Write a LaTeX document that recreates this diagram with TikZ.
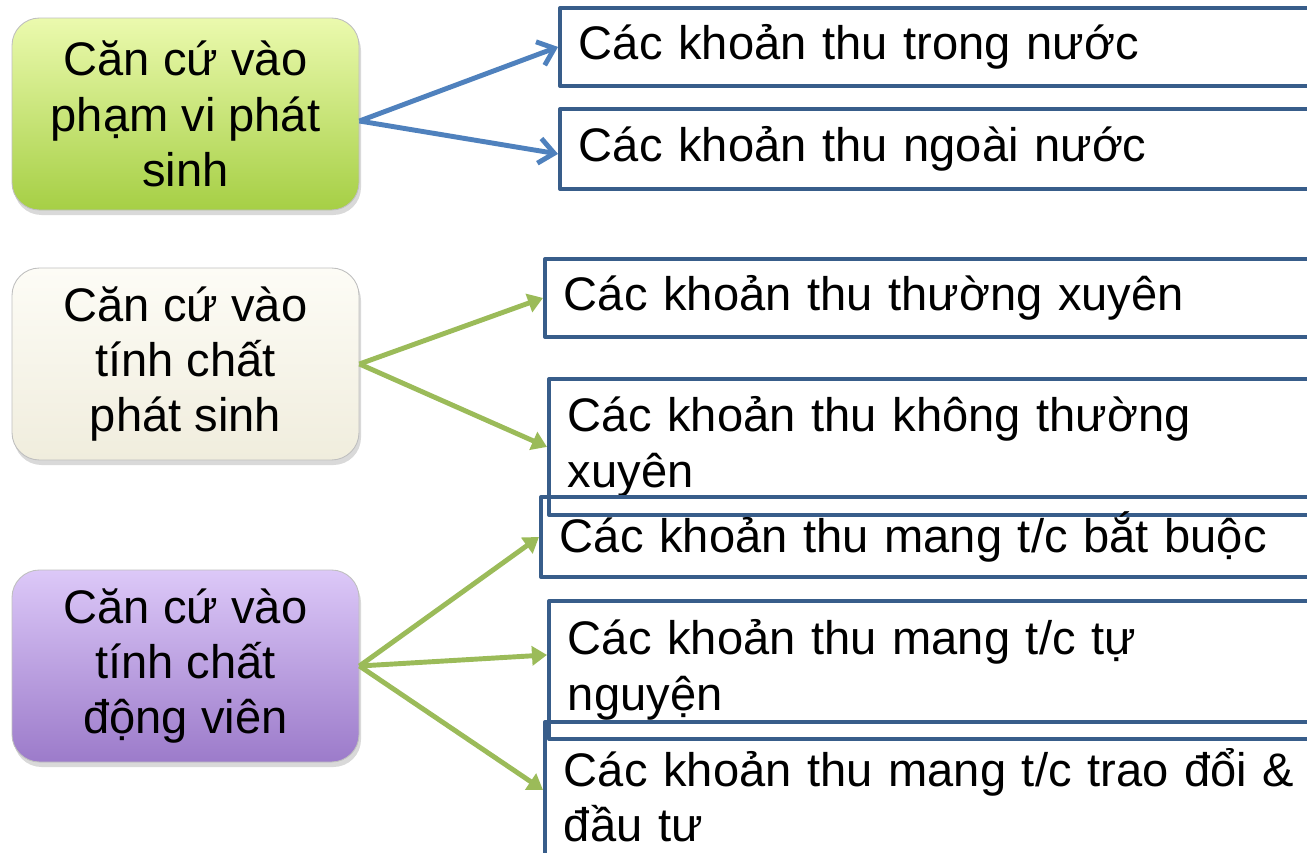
\documentclass[tikz,border=0pt]{standalone}
\usepackage{fontspec}
\setmainfont{Liberation Sans}
\usetikzlibrary{arrows.meta,shadows}
\definecolor{bluearrow}{HTML}{4F81BD}
\definecolor{greenarrow}{HTML}{9BBB59}
\definecolor{boxblue}{HTML}{385D8A}
\definecolor{greentop}{HTML}{EBFAAE}
\definecolor{greenbot}{HTML}{A6CF45}
\definecolor{creamtop}{HTML}{FDFCF6}
\definecolor{creambot}{HTML}{F0EDDD}
\definecolor{purpletop}{HTML}{DCC8F8}
\definecolor{purplebot}{HTML}{9C7BCA}

\begin{document}
\begin{tikzpicture}[>={Triangle[length=0.3cm,width=0.38cm]}, line join=round]
    \useasboundingbox (0,0) rectangle (26.14,-17.06);
    \clip (0,0) rectangle (26.14,-17.06);
    % left: criteria
    \begin{scope}[every node/.style={rectangle, rounded corners=0.55cm, draw=black!25, line width=0.5pt,
        minimum width=6.94cm, minimum height=3.84cm, align=center, font=\fontsize{26.8}{31.5}\selectfont,
        drop shadow={opacity=0.3, shadow xshift=0.04cm, shadow yshift=-0.1cm}}]
        \node[top color=greentop, bottom color=greenbot] (phamvi) at (3.71, -2.28) {Căn cứ vào\\phạm vi phát\\sinh};
        \node[top color=creamtop, bottom color=creambot] (tinhchat) at (3.71, -7.28) {Căn cứ vào\\tính chất\\phát sinh};
        \node[top color=purpletop, bottom color=purplebot] (dongvien) at (3.71, -13.32) {Căn cứ vào\\tính chất\\động viên};
    \end{scope}
    % right: kinds of revenue
    \begin{scope}[every node/.style={rectangle, draw=boxblue, line width=2.2pt, anchor=north west,
        text width=17cm, inner xsep=0.38cm, align=left, font=\fontsize{26.8}{31.5}\selectfont}]
        \node[minimum height=1.56cm] (r1) at (11.16, -0.12) {Các khoản thu trong nước};
        \node[minimum height=1.60cm] (r2) at (11.16, -2.14) {Các khoản thu ngoài nước};
        \node[minimum height=1.56cm] (r3) at (10.86, -5.14) {Các khoản thu thường xuyên};
        \node[minimum height=2.72cm] (r4) at (10.94, -7.54) {Các khoản thu không thường\\xuyên};
        \node[minimum height=1.60cm] (r5) at (10.78, -9.90) {Các khoản thu mang t/c bắt buộc};
        \node[minimum height=2.76cm] (r6) at (10.94, -11.98) {Các khoản thu mang t/c tự\\nguyện};
        \node[minimum height=2.92cm] (r7) at (10.86, -14.40) {Các khoản thu mang t/c trao đổi \&\\đầu tư};
    \end{scope}

    \draw[bluearrow, line width=2.8pt, -{Straight Barb[length=0.3cm,width=0.5cm]}] ([yshift=-0.14cm]phamvi.east) -- (r1.west);
    \draw[bluearrow, line width=2.8pt, -{Straight Barb[length=0.3cm,width=0.5cm]}] ([yshift=-0.14cm]phamvi.east) -- ([yshift=-0.1cm]r2.west);

    \draw[greenarrow, line width=2.8pt, ->] (tinhchat.east) -- (r3.west);
    \draw[greenarrow, line width=2.8pt, ->] (tinhchat.east) -- (r4.west);

    \draw[greenarrow, line width=2.8pt, ->] (dongvien.east) -- (r5.west);
    \draw[greenarrow, line width=2.8pt, ->] (dongvien.east) -- ([yshift=0.3cm]r6.west);
    \draw[greenarrow, line width=2.8pt, ->] (dongvien.east) -- ([yshift=0.1cm]r7.west);
\end{tikzpicture}
\end{document}
